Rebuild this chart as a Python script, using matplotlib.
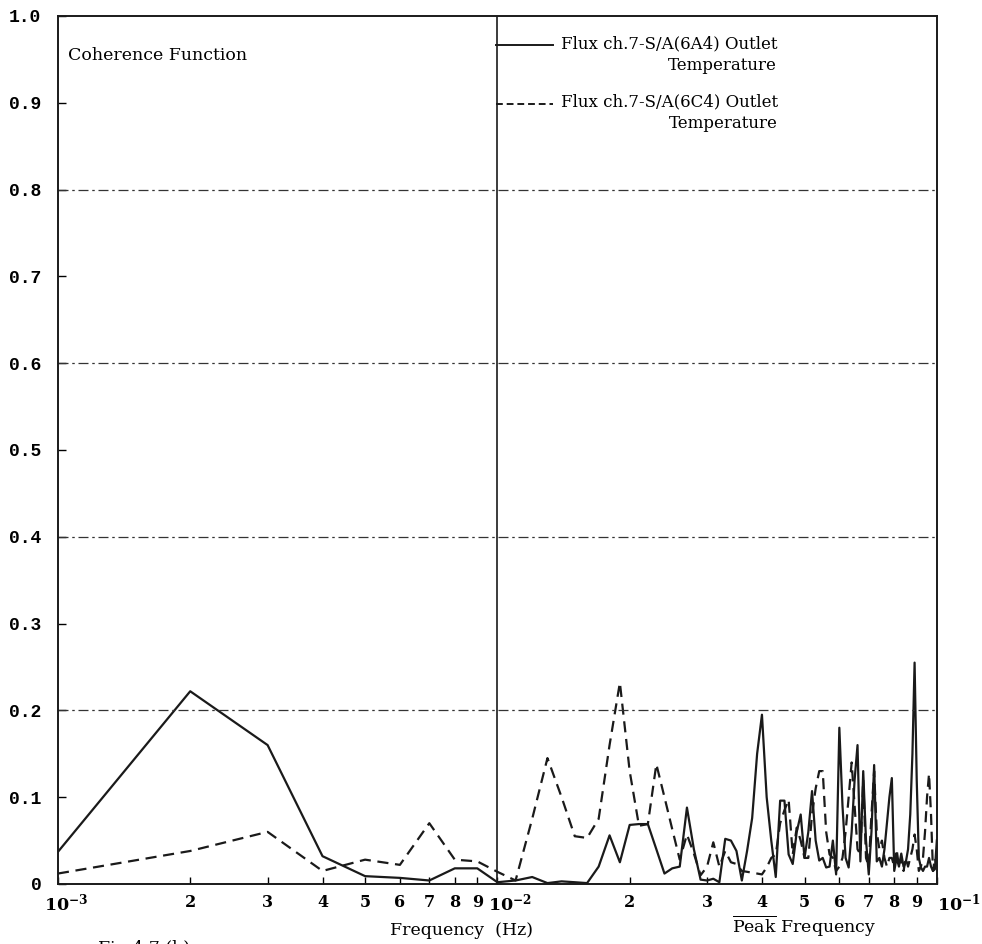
import numpy as np
import matplotlib
matplotlib.use("Agg")
import matplotlib.pyplot as plt
from matplotlib.lines import Line2D

plt.rcParams['mathtext.fontset'] = 'dejavuserif'

# frequency bins, in units of 1e-3 Hz (uniform FFT grid)
freq_mhz = list(range(1, 101))

# coherence, Flux ch.7 vs S/A(6A4) outlet temperature (solid)
coh_6a4 = [
    0.037, 0.222, 0.160, 0.032, 0.009, 0.007, 0.004, 0.018, 0.018, 0.002,
    0.004, 0.008, 0.001, 0.003, 0.002, 0.001, 0.020, 0.056, 0.025, 0.068,
    0.069, 0.069, 0.040, 0.012, 0.018, 0.020, 0.088, 0.040, 0.005, 0.004,
    0.006, 0.002, 0.052, 0.050, 0.038, 0.004, 0.038, 0.076, 0.150, 0.195,
    0.100, 0.050, 0.008, 0.096, 0.096, 0.034, 0.023, 0.060, 0.080, 0.030,
    0.060, 0.107, 0.050, 0.027, 0.030, 0.019, 0.020, 0.050, 0.011, 0.180,
    0.090, 0.030, 0.019, 0.060, 0.120, 0.160, 0.026, 0.130, 0.050, 0.011,
    0.060, 0.137, 0.026, 0.030, 0.020, 0.040, 0.070, 0.100, 0.122, 0.015,
    0.030, 0.020, 0.035, 0.020, 0.025, 0.040, 0.080, 0.150, 0.255, 0.120,
    0.030, 0.019, 0.015, 0.020, 0.020, 0.030, 0.020, 0.015, 0.017, 0.050,
]

# coherence, Flux ch.7 vs S/A(6C4) outlet temperature (dashed)
coh_6c4 = [
    0.012, 0.038, 0.060, 0.015, 0.028, 0.022, 0.070, 0.028, 0.026, 0.014,
    0.004, 0.075, 0.145, 0.100, 0.055, 0.053, 0.075, 0.160, 0.232, 0.130,
    0.067, 0.069, 0.138, 0.100, 0.063, 0.028, 0.057, 0.035, 0.010, 0.020,
    0.048, 0.020, 0.038, 0.025, 0.023, 0.015, 0.014, 0.013, 0.012, 0.011,
    0.019, 0.030, 0.034, 0.070, 0.085, 0.097, 0.034, 0.065, 0.050, 0.030,
    0.030, 0.080, 0.110, 0.130, 0.130, 0.060, 0.034, 0.030, 0.015, 0.020,
    0.030, 0.060, 0.100, 0.140, 0.090, 0.040, 0.034, 0.120, 0.030, 0.020,
    0.080, 0.130, 0.060, 0.040, 0.050, 0.030, 0.020, 0.030, 0.030, 0.020,
    0.040, 0.020, 0.030, 0.015, 0.030, 0.020, 0.030, 0.040, 0.057, 0.040,
    0.015, 0.020, 0.030, 0.060, 0.100, 0.127, 0.080, 0.015, 0.030, 0.020,
]

legend_labels = ["Flux ch.7-S/A(6A4) Outlet\nTemperature",
                 "Flux ch.7-S/A(6C4) Outlet\nTemperature"]
grid_levels = [0.2, 0.4, 0.6, 0.8]
y_ticks = [0.0, 0.1, 0.2, 0.3, 0.4, 0.5, 0.6, 0.7, 0.8, 0.9, 1.0]
y_ticklabels = ["0", "0.1", "0.2", "0.3", "0.4", "0.5", "0.6", "0.7", "0.8", "0.9", "1.0"]
decades = [1e-3, 1e-2, 1e-1]
decade_labels = [r'$\mathbf{10^{-3}}$', r'$\mathbf{10^{-2}}$', r'$\mathbf{10^{-1}}$']

freq = np.array(freq_mhz) * 1e-3

fig = plt.figure(figsize=(9.82, 9.44), dpi=100)
ax = fig.add_axes([0.059, 0.0636, 0.895, 0.9195])

ax.plot(freq, coh_6a4, color='#1a1a1a', lw=1.6)
ax.plot(freq, coh_6c4, color='#1a1a1a', lw=1.6, linestyle=(0, (5, 3)))

for g in grid_levels:
    ax.axhline(g, color='#333333', lw=0.9, linestyle=(0, (8, 3, 2, 3)))
ax.axvline(1e-2, color='#1a1a1a', lw=1.2)

ax.set_xscale('log')
ax.set_xlim(1e-3, 1e-1)
ax.set_ylim(0, 1.0)

serif = 'DejaVu Serif'
ax.set_yticks(y_ticks)
ax.set_yticklabels(y_ticklabels, fontfamily='Liberation Mono', fontweight='bold', fontsize=13)
ax.tick_params(axis='y', direction='in', length=6, width=1, pad=12)

# decade ticks: labels written by hand so the "10" sits over the tick
ax.set_xticks(decades)
ax.set_xticklabels([])
for d, lab, dx in zip(decades, decade_labels, [-10, -7, 0]):
    ax.annotate(lab, xy=(d, 0), xycoords=('data', 'axes fraction'),
                xytext=(dx, -6), textcoords='offset points',
                ha='left', va='top', fontsize=12.5)
minor = [m * d for d in (1e-3, 1e-2) for m in range(2, 10)]
ax.set_xticks(minor, minor=True)
ax.set_xticklabels([str(m) for d in (1e-3, 1e-2) for m in range(2, 10)], minor=True,
                   fontfamily=serif, fontweight='bold', fontsize=11.5)
ax.tick_params(axis='x', which='both', direction='in', length=5, width=1, pad=7)

for sp in ax.spines.values():
    sp.set_linewidth(1.4)
    sp.set_color('#1a1a1a')

ax.text(0.011, 0.955, "Coherence Function", transform=ax.transAxes,
        fontfamily=serif, fontsize=12.5, va='center', ha='left')

# legend drawn by hand: sample line next to first text line, second line right-aligned
styles = ['-', (0, (3.5, 2))]
ys = [0.966, 0.899]
for lab, st, y in zip(legend_labels, styles, ys):
    ax.add_line(Line2D([0.498, 0.563], [y, y], transform=ax.transAxes,
                       color='#1a1a1a', lw=1.4, linestyle=st))
    ax.text(0.572, y + 0.012, lab, transform=ax.transAxes, fontfamily=serif,
            fontsize=12, va='top', ha='left', multialignment='right', linespacing=1.35)

fig.text(0.47, 0.0095, "Frequency  (Hz)", fontfamily=serif, fontsize=12.5, ha='center')
fig.text(0.745, 0.0115, r'$\overline{\mathrm{Peak}}$' + ' Frequency', fontfamily=serif,
         fontsize=12.5, ha='left')
fig.text(0.10, 0.004, "Fig 4.7 (b)", fontfamily=serif, fontsize=12.5, ha='left', va='top')

fig.savefig("out.png", dpi=100, facecolor='white')
